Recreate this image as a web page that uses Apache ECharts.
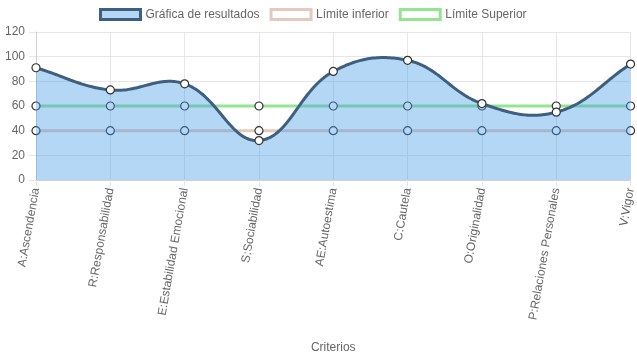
<!DOCTYPE html>
<html><head><meta charset="utf-8">
<script src="https://cdn.jsdelivr.net/npm/echarts@6/dist/echarts.min.js"></script>
<style>html,body{margin:0;padding:0;background:#fff}#c{width:637px;height:359px}</style>
</head><body><div id="c"></div>
<script>
const categories = ["A:Ascendencia","R:Responsabilidad","E:Estabilidad Emocional","S:Sociabilidad","AE:Autoestima","C:Cautela","O:Originalidad","P:Relaciones Personales","V:Vigor"];
const resultados = [91, 73, 78, 32, 88, 97, 62, 55, 94];
const limiteInferior = [40, 40, 40, 40, 40, 40, 40, 40, 40];
const limiteSuperior = [60, 60, 60, 60, 60, 60, 60, 60, 60];
const yTicks = {min: 0, max: 120, interval: 20};

const FONT = '"Liberation Sans", Arial, sans-serif';
const GRID = '#e6e6e6';
const TXT = '#666';
const BLUE_LINE = '#3e5f7e';
const FILL = 'rgba(70,155,232,0.40)';
const TAN = '#e6c9bd';
const GREEN = '#93e593';
const TENSION = 0.4;

// Cardinal-style spline (same rule as Chart.js "tension"), evaluated in pixel space
function splinePoints(pts) {
  const n = pts.length, cps = [];
  for (let i = 0; i < n; i++) {
    const p = pts[i], prev = pts[i - 1] || p, next = pts[i + 1] || p;
    const d01 = Math.hypot(p[0] - prev[0], p[1] - prev[1]);
    const d12 = Math.hypot(next[0] - p[0], next[1] - p[1]);
    let s01 = d01 / (d01 + d12), s12 = d12 / (d01 + d12);
    if (!isFinite(s01)) s01 = 0; if (!isFinite(s12)) s12 = 0;
    const fa = TENSION * s01, fb = TENSION * s12;
    cps.push({
      prev: [p[0] - fa * (next[0] - prev[0]), p[1] - fa * (next[1] - prev[1])],
      next: [p[0] + fb * (next[0] - prev[0]), p[1] + fb * (next[1] - prev[1])]
    });
  }
  const out = [pts[0]];
  const STEPS = 40;
  for (let i = 0; i < n - 1; i++) {
    const a = pts[i], b = cps[i].next, c = cps[i + 1].prev, d = pts[i + 1];
    for (let k = 1; k <= STEPS; k++) {
      const t = k / STEPS, u = 1 - t;
      out.push([
        u*u*u*a[0] + 3*u*u*t*b[0] + 3*u*t*t*c[0] + t*t*t*d[0],
        u*u*u*a[1] + 3*u*u*t*b[1] + 3*u*t*t*c[1] + t*t*t*d[1]
      ]);
    }
  }
  return out;
}

const chart = echarts.init(document.getElementById('c'), null, {renderer: 'canvas'});
const pointStyle = {color: '#fff', borderColor: '#333', borderWidth: 1.2};
chart.setOption({
  animation: false,
  textStyle: {fontFamily: FONT},
  legend: {
    top: 3, left: 94, icon: 'rect', itemWidth: 40, itemHeight: 10, itemGap: 10,
    textStyle: {color: TXT, fontSize: 12, fontFamily: FONT},
    data: [
      {name: 'Gráfica de resultados', itemStyle: {color: FILL, borderColor: BLUE_LINE, borderWidth: 3}},
      {name: 'Límite inferior', itemStyle: {color: '#fff', borderColor: TAN, borderWidth: 3}},
      {name: 'Límite Superior', itemStyle: {color: '#fff', borderColor: GREEN, borderWidth: 3}}
    ]
  },
  grid: {left: 36, right: 4, top: 32, bottom: 179, containLabel: false},
  xAxis: {
    type: 'category', data: categories, boundaryGap: false,
    name: 'Criterios', nameLocation: 'middle', nameGap: 162,
    nameTextStyle: {color: TXT, fontSize: 12, fontFamily: FONT},
    axisLine: {lineStyle: {color: '#d0d0d0'}},
    axisTick: {show: true, length: 6, lineStyle: {color: GRID}},
    axisLabel: {rotate: 80, color: TXT, fontSize: 12, fontFamily: FONT, margin: 8},
    splitLine: {show: true, lineStyle: {color: GRID}}
  },
  yAxis: {
    type: 'value', min: yTicks.min, max: yTicks.max, interval: yTicks.interval,
    axisLine: {show: true, lineStyle: {color: '#d0d0d0'}},
    axisTick: {show: true, length: 7, lineStyle: {color: GRID}},
    axisLabel: {color: TXT, fontSize: 12, fontFamily: FONT, margin: 11},
    splitLine: {show: true, lineStyle: {color: GRID}}
  },
  series: [
    {name: 'Límite inferior', type: 'line', data: limiteInferior, z: 2,
     symbol: 'circle', symbolSize: 8, showAllSymbol: true,
     lineStyle: {color: TAN, width: 3}, itemStyle: pointStyle},
    {name: 'Límite Superior', type: 'line', data: limiteSuperior, z: 2,
     symbol: 'circle', symbolSize: 8, showAllSymbol: true,
     lineStyle: {color: GREEN, width: 3}, itemStyle: pointStyle},
    {name: 'Gráfica de resultados', type: 'custom', z: 3, clip: false,
     data: resultados.map((v, i) => [i, v]),
     encode: {x: 0, y: 1},
     renderItem: function (params, api) {
       if (params.dataIndex !== 0) return null;
       const pts = resultados.map((v, i) => api.coord([i, v]));
       const y0 = api.coord([0, yTicks.min])[1];
       const curve = splinePoints(pts);
       const area = curve.concat([[pts[pts.length - 1][0], y0], [pts[0][0], y0]]);
       return {
         type: 'group',
         children: [
           {type: 'polygon', shape: {points: area}, style: {fill: FILL, stroke: null}},
           {type: 'polyline', shape: {points: curve}, style: {fill: null, stroke: BLUE_LINE, lineWidth: 3, lineJoin: 'round'}}
         ]
       };
     }},
    {name: 'Gráfica de resultados', type: 'line', data: resultados, z: 4,
     symbol: 'circle', symbolSize: 8, showAllSymbol: true,
     lineStyle: {opacity: 0, width: 0},
     itemStyle: pointStyle}
  ]
});
</script></body></html>
